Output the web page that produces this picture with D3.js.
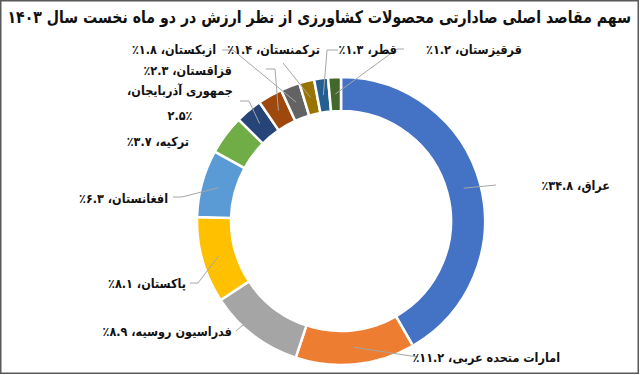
<!DOCTYPE html>
<html>
<head>
<meta charset="utf-8">
<script src="https://cdn.jsdelivr.net/npm/d3@7"></script>
<style>
  body { margin: 0; background: #fff; }
  text { font-family: "DejaVu Sans", sans-serif; font-weight: bold; fill: #111; }
  .leader { fill: none; stroke: #a6a6a6; stroke-width: 1; }
</style>
</head>
<body>
<svg id="chart" width="640" height="375"></svg>
<script>
// Chart data
const TITLE = "سهم مقاصد اصلی صادارتی محصولات کشاورزی از نظر ارزش در دو ماه نخست سال ۱۴۰۳";
const countries = ["عراق", "امارات متحده عربی", "فدراسیون روسیه", "پاکستان", "افغانستان", "ترکیه",
  "جمهوری آذربایجان", "قزاقستان", "ازبکستان", "ترکمنستان", "قطر", "قرقیزستان"];
const shares = [34.8, 11.2, 8.9, 8.1, 6.3, 3.7, 2.5, 2.3, 1.8, 1.4, 1.3, 1.2];
const colors = ["#4472c4", "#ed7d31", "#a5a5a5", "#ffc000", "#5b9bd5", "#70ad47",
  "#264478", "#9e480e", "#636363", "#997300", "#255e91", "#43682b"];

// Where each label sits (right edge x, middle y) and the bend of its leader line
const labelPos = [
  { x: 610, y: 185, leader: [[496, 185]] },
  { x: 560, y: 357, leader: [[418, 357]] },
  { x: 232, y: 331, leader: [[243, 325], [236, 331]] },
  { x: 186, y: 283, leader: [[198, 283], [190, 283]] },
  { x: 168, y: 198, leader: [[182, 197], [173, 197]] },
  { x: 189, y: 141, leader: [] },
  { x: 180, y: 90, leader: [[249, 101], [240, 101]], split: true },
  { x: 232, y: 70, leader: [[275, 69], [266, 69]] },
  { x: 216, y: 49, leader: [[233, 50], [222, 50]] },
  { x: 320, y: 49, leader: [[283, 63]] },
  { x: 397, y: 49, leader: [[327, 50], [338, 50]] },
  { x: 522, y: 49, leader: [[397, 49], [404, 49]] }
];

const WIDTH = 640, HEIGHT = 375;
const CX = 341, CY = 221;
const R_OUT = 144, R_IN = 110;
const LABEL_SQUEEZE = 0.9; // the original font is narrower than DejaVu
const TITLE_RIGHT = 631, TITLE_WIDTH = 624, TITLE_SIZE = 17;

// western digits -> persian digits
const faDigits = "۰۱۲۳۴۵۶۷۸۹";
function toFa(v)
{
  return String(v).replace(/[0-9]/g, d => faDigits[+d]);
}
function pctText(v)
{
  return toFa(d3.format(".1f")(v)) + "٪";
}

// squeeze a text horizontally
function squeeze(sel, factor)
{
  const w = sel.node().getComputedTextLength();
  sel.attr("textLength", w * factor).attr("lengthAdjust", "spacingAndGlyphs");
}

const svg = d3.select("#chart");

// frame
svg.append("rect")
  .attr("x", 0.75).attr("y", 0.75)
  .attr("width", WIDTH - 2.5).attr("height", HEIGHT - 2.5)
  .attr("fill", "#fff")
  .attr("stroke", "#595959")
  .attr("stroke-width", 1.5);

// title: font size picked so it fits, then stretched back up to the original height
const title = svg.append("text")
  .attr("x", 0).attr("y", 0)
  .attr("direction", "rtl")
  .attr("text-anchor", "start")
  .style("font-size", TITLE_SIZE + "px")
  .text(TITLE);
const natural = title.node().getComputedTextLength();
const fitSize = Math.min(TITLE_SIZE, TITLE_SIZE * TITLE_WIDTH / natural);
title.style("font-size", fitSize + "px")
  .attr("transform", `translate(${TITLE_RIGHT},23) scale(1,${TITLE_SIZE / fitSize})`);

const data = countries.map((c, i) => ({ name: c, value: shares[i], color: colors[i] }));

const pie = d3.pie().sort(null).value(d => d.value);
const arc = d3.arc().innerRadius(R_IN).outerRadius(R_OUT);
const midArc = d3.arc().innerRadius((R_IN + R_OUT) / 2).outerRadius((R_IN + R_OUT) / 2);

const g = svg.append("g").attr("transform", `translate(${CX},${CY})`);
const arcs = pie(data);

g.selectAll("path.slice")
  .data(arcs)
  .join("path")
  .attr("class", "slice")
  .attr("d", arc)
  .attr("fill", d => d.data.color)
  .attr("stroke", "#fff")
  .attr("stroke-width", 2.5);

// leader lines from the middle of each slice to its label
const lineGen = d3.line();
arcs.forEach((a, i) => {
  const pos = labelPos[i];
  if (pos.leader.length === 0) return;
  const c = midArc.centroid(a);
  const pts = [[c[0] + CX, c[1] + CY]].concat(pos.leader);
  svg.append("path")
    .attr("class", "leader")
    .attr("d", lineGen(pts));
});

// labels
arcs.forEach((a, i) => {
  const pos = labelPos[i];
  if (pos.split)
  {
    // two lines, centred
    const t = svg.append("text")
      .attr("direction", "rtl")
      .attr("text-anchor", "middle")
      .style("font-size", "12.5px");
    const l1 = t.append("tspan").attr("x", pos.x).attr("y", pos.y + 4.5).text(a.data.name + "،");
    const l2 = t.append("tspan").attr("x", pos.x).attr("y", pos.y + 29.5).text(pctText(a.data.value));
    squeeze(l1, LABEL_SQUEEZE);
    squeeze(l2, LABEL_SQUEEZE);
  }
  else
  {
    const t = svg.append("text")
      .attr("direction", "rtl")
      .attr("x", pos.x).attr("y", pos.y + 4.5)
      .attr("text-anchor", "start")
      .style("font-size", "12.5px")
      .text(a.data.name + "، " + pctText(a.data.value));
    squeeze(t, LABEL_SQUEEZE);
  }
});
</script>
</body>
</html>
